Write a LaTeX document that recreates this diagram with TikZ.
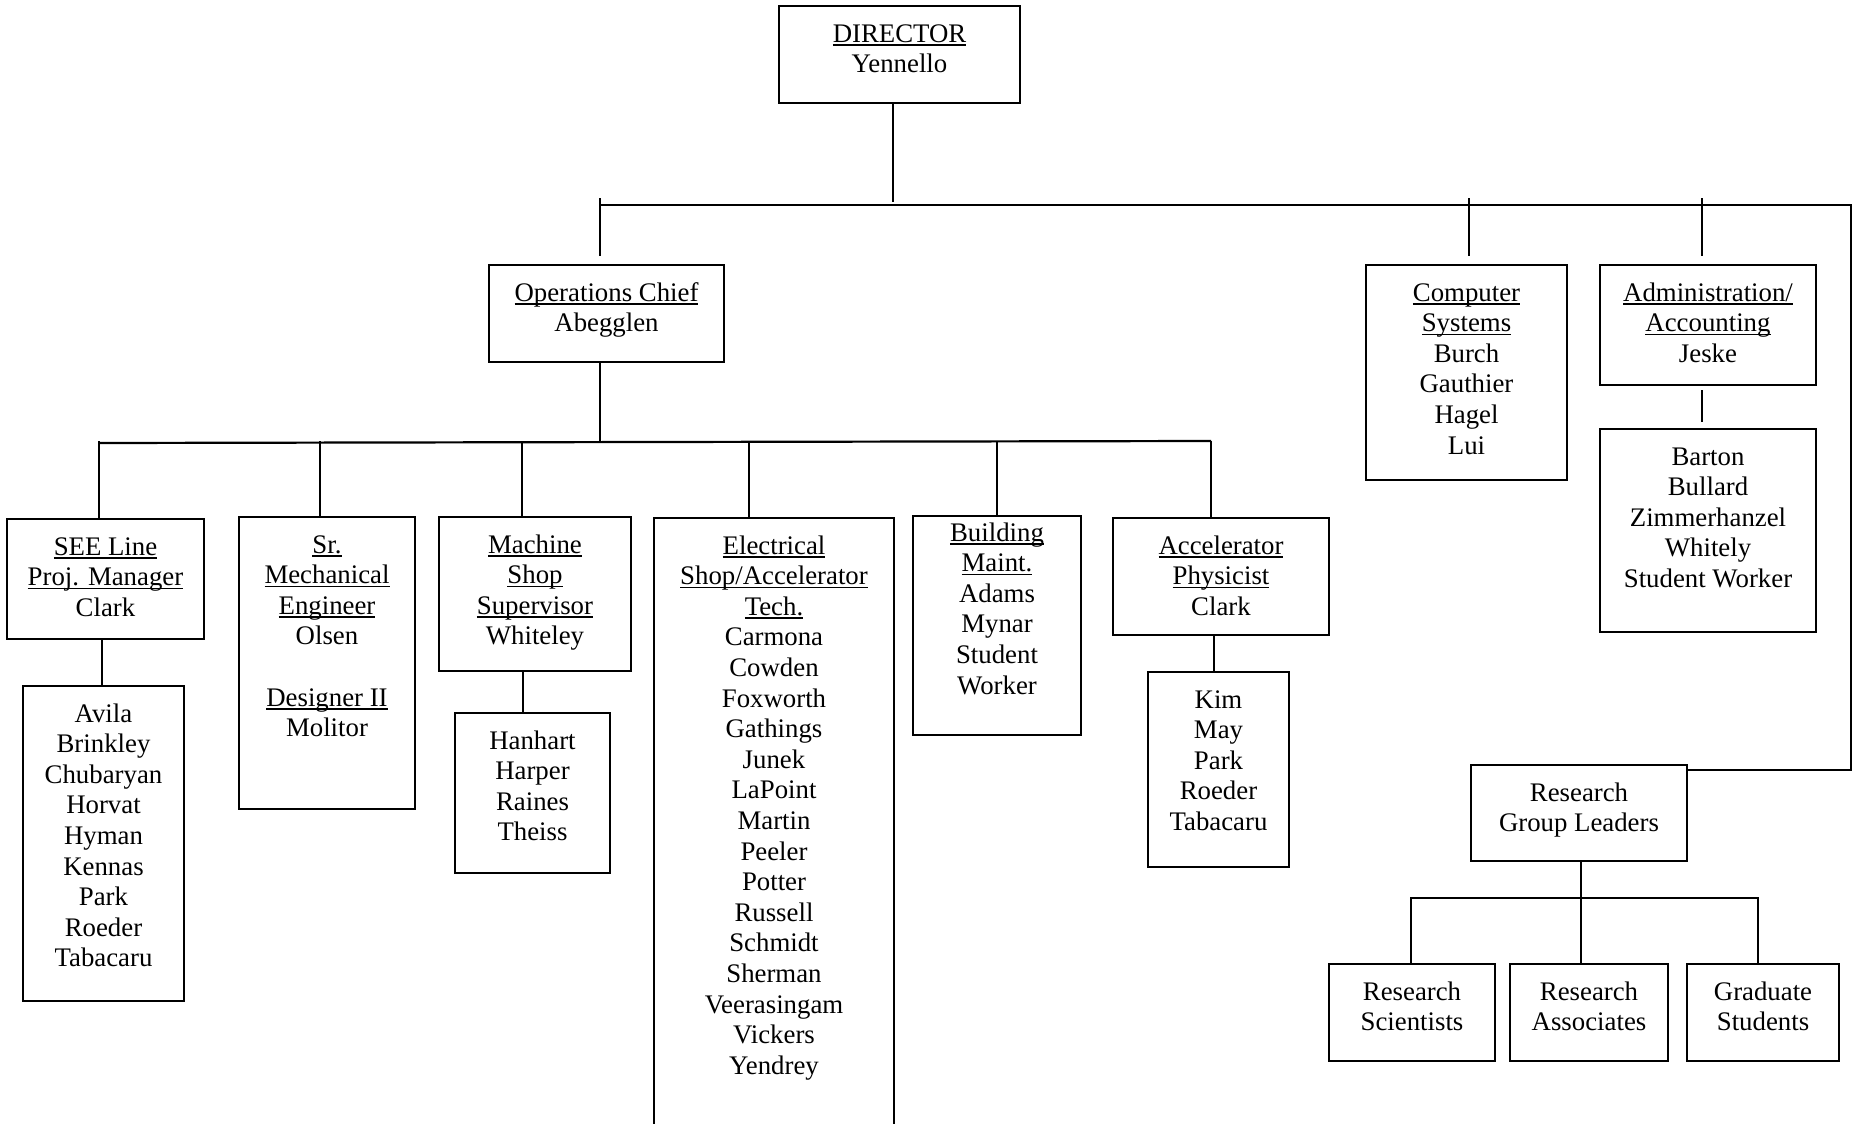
\documentclass[tikz,border=0pt]{standalone}
\usepackage{fontspec}
\setmainfont{Liberation Serif}
\newlength{\pxunit}
\setlength{\pxunit}{0.5pt}
% text set from the top of a box of given size (in px)
\newcommand{\boxtext}[4][18pt]{\parbox[t][#3\pxunit][t]{#2\pxunit}{\centering\rule{0pt}{#1}#4}}
\newcommand{\ttl}[1]{\leavevmode\setbox0\hbox{#1}\rlap{\rule[-1.8pt]{\wd0}{0.7pt}}\box0}
\tikzstyle{orgbox} = [draw, rectangle, line width=1pt, inner sep=0pt, anchor=north west, font=\fontsize{13.4pt}{15.3pt}\selectfont]
\tikzstyle{link} = [draw, line width=0.7pt]
\tikzstyle{busline} = [draw, line width=1.1pt]

\begin{document}
\begin{tikzpicture}[x=0.5pt, y=-0.5pt]
            \useasboundingbox (0,0) rectangle (1853,1124);
            % Defining nodes
            \node[orgbox] (director) at (778,5) {\boxtext{241}{97}{\ttl{DIRECTOR}\\Yennello}};
            \node[orgbox] (opschief) at (488,264) {\boxtext{235}{97}{\ttl{Operations Chief}\\Abegglen}};
            \node[orgbox] (compsys) at (1365,264) {\boxtext{201}{215}{\ttl{Computer}\\\ttl{Systems}\\Burch\\Gauthier\\Hagel\\Lui}};
            \node[orgbox] (admin) at (1599,264) {\boxtext{216}{120}{\ttl{Administration/}\\\ttl{Accounting}\\Jeske}};
            \node[orgbox] (adminstaff) at (1599,428) {\boxtext{216}{203}{Barton\\Bullard\\Zimmerhanzel\\Whitely\\Student Worker}};

            \node[orgbox] (seeline) at (6,518) {\boxtext{197}{120}{\ttl{SEE Line}\\\ttl{Proj. Manager}\\Clark}};
            \node[orgbox] (seestaff) at (22,685) {\boxtext{161}{315}{Avila\\Brinkley\\Chubaryan\\Horvat\\Hyman\\Kennas\\Park\\Roeder\\Tabacaru}};
            \node[orgbox] (srmech) at (238,516) {\boxtext{176}{292}{\ttl{Sr.}\\\ttl{Mechanical}\\\ttl{Engineer}\\Olsen\\[15.3pt]\ttl{Designer II}\\Molitor}};
            \node[orgbox] (machshop) at (438,516) {\boxtext{192}{154}{\ttl{Machine}\\\ttl{Shop}\\\ttl{Supervisor}\\Whiteley}};
            \node[orgbox] (machstaff) at (454,712) {\boxtext{155}{160}{Hanhart\\Harper\\Raines\\Theiss}};
            \node[orgbox] (elecshop) at (653,517) {\boxtext{240}{630}{\ttl{Electrical}\\\ttl{Shop/Accelerator}\\\ttl{Tech.}\\Carmona\\Cowden\\Foxworth\\Gathings\\Junek\\LaPoint\\Martin\\Peeler\\Potter\\Russell\\Schmidt\\Sherman\\Veerasingam\\Vickers\\Yendrey}};
            \node[orgbox] (bldgmaint) at (912,515) {\boxtext[12.5pt]{168}{219}{\ttl{Building}\\\ttl{Maint.}\\Adams\\Mynar\\Student\\Worker}};
            \node[orgbox] (accphys) at (1112,517) {\boxtext{216}{117}{\ttl{Accelerator}\\\ttl{Physicist}\\Clark}};
            \node[orgbox] (accstaff) at (1147,671) {\boxtext{141}{195}{Kim\\May\\Park\\Roeder\\Tabacaru}};

            \node[orgbox] (rgl) at (1470,764) {\boxtext{216}{96}{Research\\Group Leaders}};
            \node[orgbox] (rsci) at (1328,963) {\boxtext{166}{97}{Research\\Scientists}};
            \node[orgbox] (rassoc) at (1509,963) {\boxtext{158}{97}{Research\\Associates}};
            \node[orgbox] (gradstud) at (1686,963) {\boxtext{152}{97}{Graduate\\Students}};

            % Drawing diagram
            \draw[link] (893,0 |- director.south) -- (893,202);
            \draw[busline] (600,205) -- (1851,205) |- ([yshift=-3pt]rgl.north east);
            \foreach \x/\n in {600/opschief, 1469/compsys, 1702/admin}
                \draw[link, shorten >=4pt] (\x,198) -- (\x,0 |- \n.north);

            \draw[link] (600,0 |- opschief.south) -- (600,443);
            \draw[busline] (99,443) -- (1211,441);
            \foreach \x/\n in {99/seeline, 320/srmech, 522/machshop, 749/elecshop, 997/bldgmaint, 1211/accphys}
                \draw[link] (\x,441) -- (\x,0 |- \n.north);

            \draw[link] (102,0 |- seeline.south) -- (102,0 |- seestaff.north);
            \draw[link] (523,0 |- machshop.south) -- (523,0 |- machstaff.north);
            \draw[link] (1214,0 |- accphys.south) -- (1214,0 |- accstaff.north);
            \draw[link, shorten <=2pt, shorten >=3pt] (1702,0 |- admin.south) -- (1702,0 |- adminstaff.north);

            \draw[link] (1581,0 |- rgl.south) -- (1581,0 |- rassoc.north);
            \draw[link] (1411,0 |- rsci.north) |- (1758,898) -- (1758,0 |- gradstud.north);
        \end{tikzpicture}
\end{document}
